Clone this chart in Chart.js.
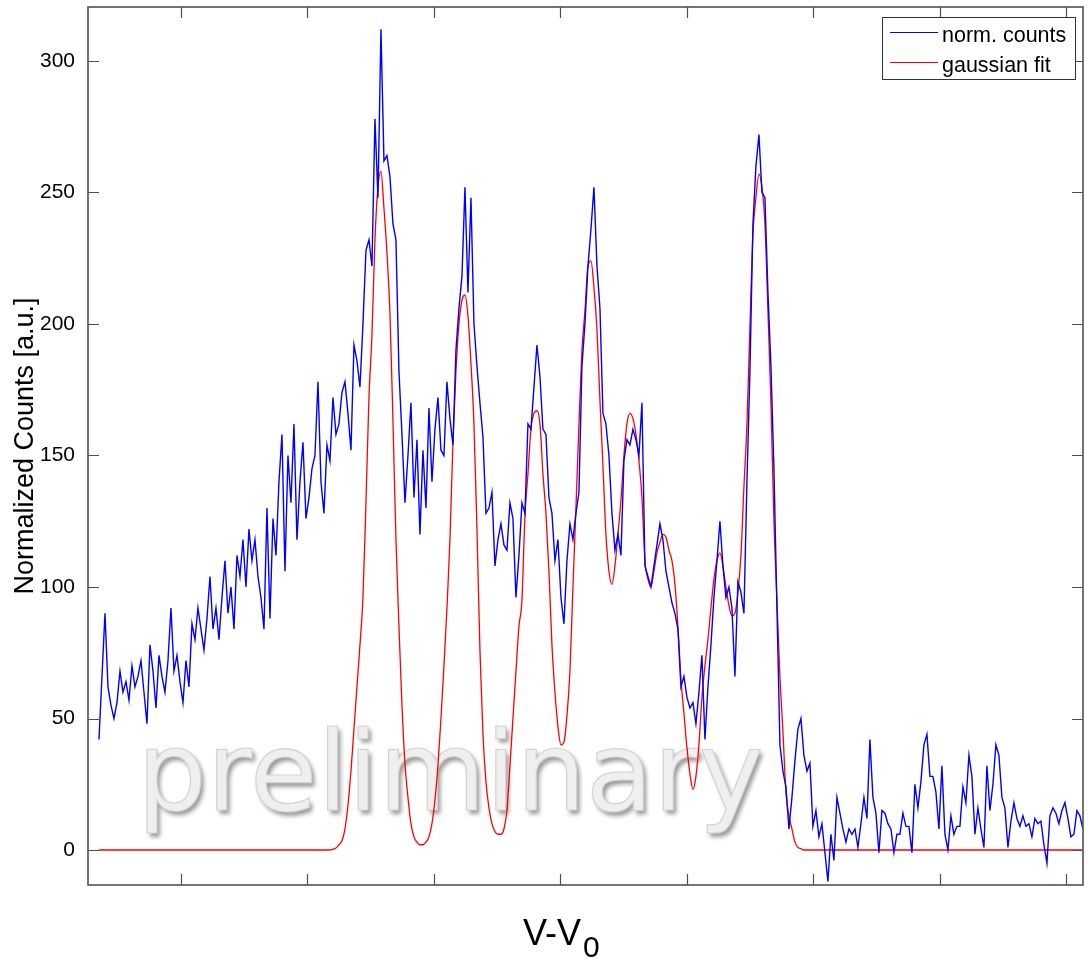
<!DOCTYPE html>
<html>
<head>
<meta charset="utf-8">
<title>Normalized Counts</title>
<script src="https://cdn.jsdelivr.net/npm/chart.js@4.4.1/dist/chart.umd.min.js"></script>
<style>
  html, body { margin: 0; padding: 0; background: #fff; }
  canvas { display: block; }
</style>
</head>
<body>
<canvas id="chart" width="1088" height="959"></canvas>
<script>
// sample grid along V-V0 (tick units, ticks carry no labels)
const X_START = -0.6482;
const X_STEP = 0.023715;
const X_MIN = -0.735;
const X_MAX = 7.131;
const Y_MIN = -13.3;
const Y_MAX = 320.5;
const Y_STEP = 50;

const seriesLabels = ['norm. counts', 'gaussian fit'];
const seriesColors = ['#0000ff', '#ff0000'];

// measured spectrum
const normCounts = [
  42, 66, 90, 62, 55, 50, 56, 68, 60, 64, 57, 70, 62, 66, 72, 60, 48, 78, 68, 54,
  74, 66, 60, 72, 92, 68, 74, 64, 56, 72, 62, 86, 80, 92, 84, 76, 88, 104, 84, 92,
  80, 96, 110, 90, 100, 84, 112, 104, 118, 100, 122, 110, 118, 104, 96, 84, 130, 88, 126, 112,
  140, 158, 106, 150, 132, 162, 118, 140, 155, 126, 134, 145, 150, 178, 140, 128, 154, 148, 172, 158,
  162, 174, 178, 166, 152, 192, 186, 176, 200, 228, 232, 222, 278, 248, 312, 262, 264, 256, 238, 232,
  182, 158, 132, 150, 170, 134, 156, 120, 152, 130, 168, 140, 160, 172, 152, 150, 178, 164, 154, 190,
  206, 218, 252, 212, 248, 200, 184, 170, 157, 128, 130, 136, 108, 118, 124, 116, 114, 132, 126, 96,
  112, 132, 128, 162, 160, 176, 192, 180, 160, 158, 134, 128, 110, 118, 96, 86, 110, 124, 118, 128,
  136, 184, 200, 222, 236, 252, 222, 206, 166, 162, 150, 128, 114, 120, 112, 148, 156, 154, 160, 156,
  150, 170, 108, 104, 100, 108, 116, 124, 118, 106, 100, 94, 90, 84, 62, 66, 58, 54, 56, 48,
  60, 74, 42, 62, 78, 96, 110, 125, 108, 96, 100, 92, 66, 102, 98, 90, 140, 182, 238, 260,
  272, 250, 248, 212, 184, 145, 92, 40, 30, 24, 8, 20, 34, 46, 50, 36, 30, 33, 9, 15,
  5, 10, -1, -12, 6, -4, 20, 14, 8, 3, 8, 6, 8, 1, 10, 20, 12, 42, 20, 14,
  -1, 15, 14, 10, 8, -1, 6, 6, 14, 9, 9, -1, 25, 16, 26, 40, 44, 28, 28, 22,
  8, 32, 6, 0, 13, 6, 9, 9, 24, 18, 36, 28, 6, 16, 8, 1, 32, 15, 25, 40,
  36, 20, 16, 1, 11, 18, 12, 9, 13, 9, 10, 5, 12, 10, 11, 2, -5, 13, 16, 14,
  10, 15, 18, 12, 5, 6, 15, 13, 8
];

// fitted sum of gaussians
const gaussFit = [
  0, 0, 0, 0, 0, 0, 0, 0, 0, 0, 0, 0, 0, 0, 0, 0, 0, 0, 0, 0,
  0, 0, 0, 0, 0, 0, 0, 0, 0, 0, 0, 0, 0, 0, 0, 0, 0, 0, 0, 0,
  0, 0, 0, 0, 0, 0, 0, 0, 0, 0, 0, 0, 0, 0, 0, 0, 0, 0, 0, 0,
  0, 0, 0, 0, 0, 0, 0, 0, 0, 0, 0, 0, 0, 0, 0, 0, 0, 0, 0.3, 0.8,
  2, 3.5, 8, 17, 30, 46, 62, 78, 96, 132, 172, 196, 232, 252, 258, 244, 227, 204, 163, 118,
  85, 55, 33, 20, 10, 5, 3, 2, 2, 3, 5, 10, 19, 32, 50, 70, 92, 118, 155, 182,
  200, 209, 211, 203, 185, 162, 122, 76, 44, 26, 16, 10, 7, 6, 6, 8, 15, 32, 50, 68,
  85, 95, 127, 143, 160, 166, 167, 162, 143, 128, 106, 78, 60, 47, 40, 41, 51, 68, 100, 130,
  162, 190, 205, 222, 224, 214, 198, 171, 146, 120, 106, 101, 108, 120, 133, 150, 162, 166, 164, 158,
  148, 134, 110, 103, 100, 106, 113, 117, 120, 119, 114, 110, 101, 85, 65, 52, 39, 29, 23, 28,
  40, 58, 70, 80, 92, 103, 110, 113, 108, 100, 93, 89, 90, 98, 112, 138, 162, 199, 234, 248,
  257, 252, 238, 205, 170, 125, 95, 66, 45, 22, 13, 8, 3, 1, 0.5, 0, 0, 0, 0, 0,
  0, 0, 0, 0, 0, 0, 0, 0, 0, 0, 0, 0, 0, 0, 0, 0, 0, 0, 0, 0,
  0, 0, 0, 0, 0, 0, 0, 0, 0, 0, 0, 0, 0, 0, 0, 0, 0, 0, 0, 0,
  0, 0, 0, 0, 0, 0, 0, 0, 0, 0, 0, 0, 0, 0, 0, 0, 0, 0, 0, 0,
  0, 0, 0, 0, 0, 0, 0, 0, 0, 0, 0, 0, 0, 0, 0, 0, 0, 0, 0, 0,
  0, 0, 0, 0, 0, 0, 0, 0, 0
];

const toPoints = arr => arr.map((v, i) => ({ x: X_START + i * X_STEP, y: v }));

const AXIS_FONT = '"Liberation Sans", Arial, sans-serif';

// big embossed "preliminary" stamp behind the curves
const watermark = {
  id: 'watermark',
  beforeDatasetsDraw(chart) {
    const { ctx, chartArea } = chart;
    const tx = chartArea.left + 49;
    const ty = 810;
    ctx.save();
    ctx.font = '110px "DejaVu Sans"';
    ctx.textBaseline = 'alphabetic';
    ctx.shadowColor = 'rgba(0,0,0,0.4)';
    ctx.shadowOffsetX = 3;
    ctx.shadowOffsetY = 4;
    ctx.shadowBlur = 4;
    ctx.fillStyle = '#efefef';
    ctx.fillText('preliminary', tx, ty);
    ctx.shadowColor = 'transparent';
    ctx.strokeStyle = '#d4d4d4';
    ctx.lineWidth = 1.2;
    ctx.strokeText('preliminary', tx, ty);
    ctx.restore();
  }
};

// matlab style box with inward ticks on all four sides
const axesBox = {
  id: 'axesBox',
  afterDatasetsDraw(chart) {
    const { ctx, chartArea: a, scales: { x, y } } = chart;
    const len = 11;
    ctx.save();
    ctx.strokeStyle = '#505050';
    ctx.lineWidth = 1.2;
    ctx.beginPath();
    x.ticks.forEach(t => {
      const px = Math.round(x.getPixelForValue(t.value)) + 0.5;
      ctx.moveTo(px, a.bottom); ctx.lineTo(px, a.bottom - len);
      ctx.moveTo(px, a.top); ctx.lineTo(px, a.top + len);
    });
    y.ticks.forEach(t => {
      const py = Math.round(y.getPixelForValue(t.value)) + 0.5;
      ctx.moveTo(a.left, py); ctx.lineTo(a.left + len, py);
      ctx.moveTo(a.right, py); ctx.lineTo(a.right - len, py);
    });
    ctx.stroke();
    ctx.lineWidth = 1.6;
    ctx.strokeRect(a.left, a.top, a.right - a.left, a.bottom - a.top);
    ctx.restore();
  }
};

// x title with subscript and boxed legend
const extras = {
  id: 'extras',
  afterDraw(chart) {
    const { ctx, chartArea: a } = chart;
    ctx.save();
    ctx.fillStyle = '#000';
    ctx.textBaseline = 'alphabetic';
    const main = 'V-V';
    const x0 = a.left + 435;
    ctx.font = '36px ' + AXIS_FONT;
    const w = ctx.measureText(main).width;
    ctx.fillText(main, x0, 945);
    ctx.font = '30px ' + AXIS_FONT;
    ctx.fillText('0', x0 + w + 2, 957);

    // legend
    const lx = 882, ly = 17, lw = 193, lh = 62;
    ctx.fillStyle = '#fff';
    ctx.fillRect(lx, ly, lw, lh);
    ctx.strokeStyle = '#333';
    ctx.lineWidth = 1;
    ctx.strokeRect(lx + 0.5, ly + 0.5, lw, lh);
    ctx.font = '21.5px ' + AXIS_FONT;
    chart.data.datasets.forEach((ds, i) => {
      const yy = ly + 15 + i * 30;
      ctx.strokeStyle = ds.borderColor;
      ctx.lineWidth = 1.2;
      ctx.beginPath();
      ctx.moveTo(lx + 8, yy + 0.5);
      ctx.lineTo(lx + 56, yy + 0.5);
      ctx.stroke();
      ctx.fillStyle = '#000';
      ctx.fillText(ds.label, lx + 60, yy + 10);
    });
    ctx.restore();
  }
};

new Chart(document.getElementById('chart'), {
  type: 'line',
  data: {
    datasets: [
      {
        label: seriesLabels[0],
        data: toPoints(normCounts),
        borderColor: seriesColors[0],
        borderWidth: 1.4,
        pointRadius: 0,
        tension: 0
      },
      {
        label: seriesLabels[1],
        data: toPoints(gaussFit),
        borderColor: seriesColors[1],
        borderWidth: 1.3,
        pointRadius: 0,
        cubicInterpolationMode: 'monotone'
      }
    ]
  },
  options: {
    responsive: false,
    animation: false,
    events: [],
    layout: { padding: { top: 7, right: 5, left: 0, bottom: 0 } },
    plugins: {
      legend: { display: false },
      tooltip: { enabled: false }
    },
    scales: {
      x: {
        type: 'linear',
        min: X_MIN,
        max: X_MAX,
        ticks: { display: false, stepSize: 1, includeBounds: false },
        grid: { display: false },
        border: { display: false },
        afterFit(s) { s.height = 74; s.paddingLeft = 0; s.paddingRight = 0; }
      },
      y: {
        type: 'linear',
        min: Y_MIN,
        max: Y_MAX,
        ticks: {
          stepSize: Y_STEP,
          includeBounds: false,
          color: '#000',
          padding: 5,
          font: { family: AXIS_FONT, size: 21 }
        },
        grid: { display: false },
        border: { display: false },
        title: {
          display: true,
          text: 'Normalized Counts [a.u.]',
          color: '#000',
          font: { family: AXIS_FONT, size: 27 },
          padding: { top: 9, bottom: 0 }
        },
        afterFit(s) { s.width = 88; s.paddingTop = 0; s.paddingBottom = 0; }
      }
    }
  },
  plugins: [watermark, axesBox, extras]
});
</script>
</body>
</html>
